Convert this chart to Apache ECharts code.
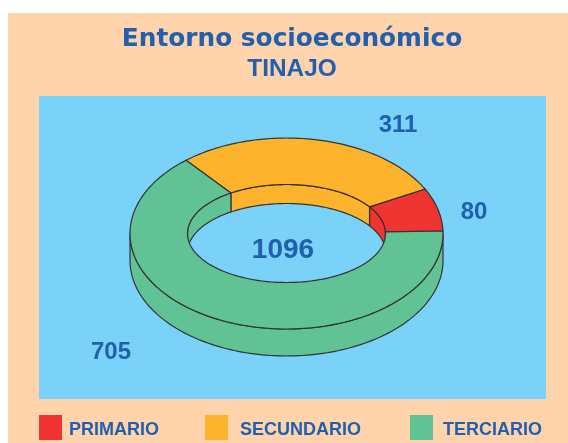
<!DOCTYPE html>
<html><head><meta charset="utf-8">
<style>html,body{margin:0;padding:0;background:#fff}#c{width:568px;height:443px}</style>
<script src="https://cdn.jsdelivr.net/npm/echarts@6/dist/echarts.min.js"></script>
</head><body><div id="c"></div>
<script>
const categories = ['PRIMARIO', 'SECUNDARIO', 'TERCIARIO'];
const values = [80, 311, 705];
const colors = ['#EF3432', '#FDB32B', '#60C295'];
const labelSpots = [[474, 212], [398, 125], [111, 352]];
const legendSpots = [[39, 2], [205, 7], [410, 5]];
const total = values.reduce((a, b) => a + b, 0);

const TEXT = '#2060AE', LINE = '#333';
const START = 1.5;
const C = { x: 286.5, y: 233.5, rx: 156.5, ry: 95.5, irx: 99, iry: 49, depth: 27, idepth: 19 };
const rad = d => d * Math.PI / 180;
const outerPt = (t, dy = 0) => [C.x + C.rx * Math.cos(rad(t)), C.y - C.ry * Math.sin(rad(t)) + dy];
// inner edge of a slice boundary: straight from the outer point towards the centre
function innerAngle(t) {
  let a = Math.atan2(C.ry * Math.sin(rad(t)) / C.iry, C.rx * Math.cos(rad(t)) / C.irx) * 180 / Math.PI;
  if (a < 0) a += 360;
  return t > 360 ? a + 360 : a;
}
const innerPt = (t, dy = 0) => [C.x + C.irx * Math.cos(rad(t)), C.y - C.iry * Math.sin(rad(t)) + dy];
function arc(fn, a, b, dy) {
  const n = Math.max(2, Math.ceil(Math.abs(b - a) / 1.5)), pts = [];
  for (let i = 0; i <= n; i++) pts.push(fn(a + (b - a) * i / n, dy));
  return pts;
}
function poly(points, color, z2) {
  return { type: 'polygon', shape: { points }, z2,
    style: { fill: color, stroke: LINE, lineWidth: 1.2, lineJoin: 'round' } };
}
function makeItem(idx) {
  return function (params, api) {
    const before = values.slice(0, idx).reduce((a, b) => a + b, 0);
    const a = START + before / total * 360, b = START + (before + api.value(0)) / total * 360;
    const ia = innerAngle(a), ib = innerAngle(b);
    const kids = [];
    // outer wall: only the front half (180..360) is visible
    const wa = Math.max(a, 180), wb = Math.min(b, 360);
    if (wb > wa) kids.push(poly(arc(outerPt, wa, wb, 0).concat(arc(outerPt, wb, wa, C.depth)), colors[idx], 1));
    // inner wall: only the back half (0..180) is visible
    const va = Math.max(ia, 0), vb = Math.min(ib, 180);
    if (vb > va) kids.push(poly(arc(innerPt, va, vb, 0).concat(arc(innerPt, vb, va, C.idepth)), colors[idx], 2));
    if (ib > 360) kids.push(poly(arc(innerPt, 0, ib - 360, 0).concat(arc(innerPt, ib - 360, 0, C.idepth)), colors[idx], 2));
    // top face
    kids.push(poly(arc(outerPt, a, b, 0).concat(arc(innerPt, ib, ia, 0)), colors[idx], 3));
    kids.push({ type: 'text', z2: 5, style: {
      x: labelSpots[idx][0], y: labelSpots[idx][1], text: String(api.value(0)),
      fill: TEXT, fontFamily: 'Liberation Sans', fontWeight: 'bold', fontSize: 24, align: 'center', verticalAlign: 'middle' } });
    return { type: 'group', children: kids };
  };
}
const chart = echarts.init(document.getElementById('c'), null, { renderer: 'canvas' });
chart.setOption({
  animation: false,
  backgroundColor: '#fff',
  title: {
    left: 287, top: 20, textAlign: 'center',
    text: '{a|Entorno socioeconómico}\n{b|TINAJO}',
    textStyle: { rich: {
      a: { fontFamily: 'DejaVu Sans', fontWeight: 'bold', fontSize: 24.8, color: TEXT, lineHeight: 30, align: 'center' },
      b: { fontFamily: 'Liberation Sans', fontWeight: 'bold', fontSize: 24.4, color: TEXT, lineHeight: 29, align: 'center' } } }
  },
  graphic: [
    { type: 'rect', z: -10, shape: { x: 8, y: 13, width: 560, height: 430 }, style: { fill: '#FFD3AC' } },
    { type: 'rect', z: -9, shape: { x: 39, y: 96, width: 507, height: 303 }, style: { fill: '#7AD2F8' } },
    { type: 'text', z: 10, style: { x: 283, y: 250, text: String(total), fill: TEXT,
      fontFamily: 'Liberation Sans', fontWeight: 'bold', fontSize: 28, align: 'center', verticalAlign: 'middle' } }
  ],
  legend: categories.map((name, i) => ({
    left: legendSpots[i][0], top: 415, padding: 0, itemWidth: 23, itemHeight: 25,
    icon: 'rect', selectedMode: false,
    data: [name],
    itemStyle: { borderWidth: 0 },
    formatter: '{t|{name}}',
    textStyle: { padding: [0, 0, 0, legendSpots[i][1]],
      rich: { t: { fontFamily: 'Liberation Sans', fontWeight: 'bold', fontSize: 18, color: TEXT, padding: [6, 0, 0, 0] } } }
  })),
  series: categories.map((name, i) => ({
    type: 'custom', name, coordinateSystem: 'none', silent: true,
    itemStyle: { color: colors[i] },
    data: [[values[i]]],
    renderItem: makeItem(i)
  }))
});
</script></body></html>
